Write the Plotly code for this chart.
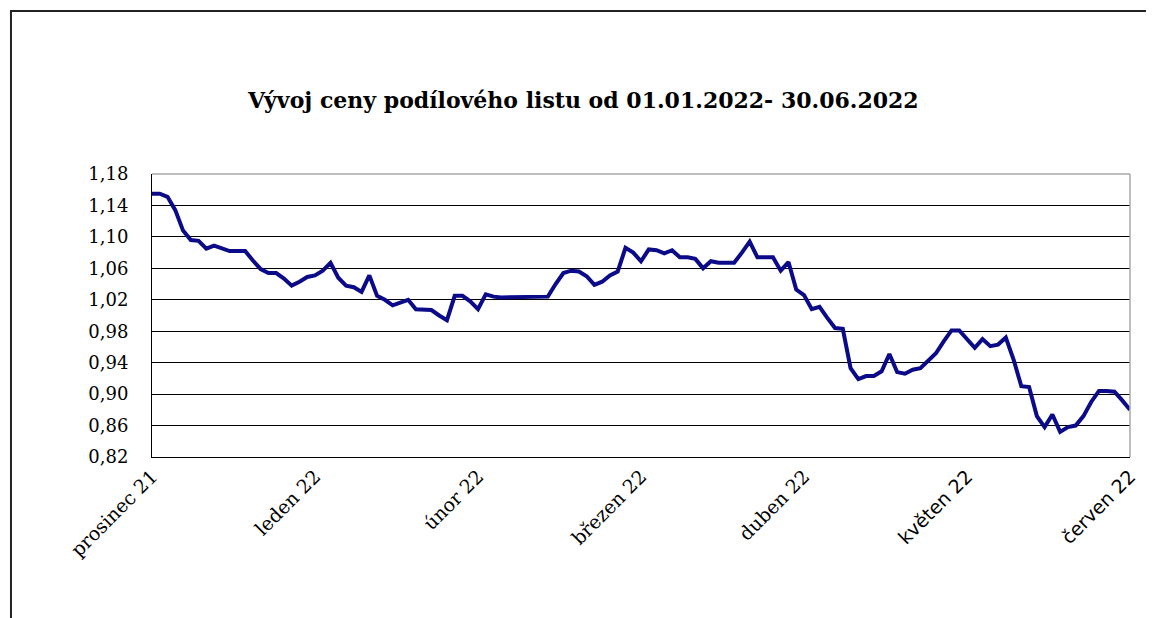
import plotly.graph_objects as go

# trading day index and unit price
day = list(range(127))
price = [
    1.155, 1.155, 1.151, 1.134, 1.108, 1.096, 1.095, 1.085, 1.089, 1.086,
    1.082, 1.082, 1.082, 1.070, 1.059, 1.054, 1.054, 1.047, 1.038, 1.043,
    1.049, 1.051, 1.057, 1.067, 1.048, 1.038, 1.036, 1.030, 1.051, 1.025,
    1.020, 1.013, 1.016, 1.020, 1.008, 1.007, 1.007, 1.000, 0.994, 1.025,
    1.025, 1.018, 1.008, 1.027, 1.024, 1.023, 1.023, 1.023, 1.023, 1.023,
    1.023, 1.024, 1.040, 1.054, 1.057, 1.056, 1.050, 1.039, 1.043, 1.051,
    1.056, 1.086, 1.080, 1.069, 1.084, 1.083, 1.079, 1.083, 1.074, 1.074,
    1.072, 1.060, 1.069, 1.067, 1.067, 1.067, 1.080, 1.094, 1.074, 1.074,
    1.074, 1.057, 1.068, 1.033, 1.026, 1.008, 1.011, 0.997, 0.984, 0.983,
    0.933, 0.919, 0.923, 0.923, 0.929, 0.951, 0.928, 0.926, 0.931, 0.933,
    0.943, 0.952, 0.967, 0.981, 0.981, 0.970, 0.959, 0.970, 0.961, 0.963,
    0.972, 0.944, 0.910, 0.909, 0.872, 0.858, 0.874, 0.852, 0.858, 0.860,
    0.872, 0.890, 0.904, 0.904, 0.903, 0.892, 0.880,
]

month_pos = [0, 21, 42, 63, 84, 105, 126]
month_labels = [
    "prosinec 21", "leden 22", "únor 22", "březen 22", "duben 22",
    "<span style='font-family:DejaVu Sans;font-size:19px'>květen 22</span>",
    "<span style='font-family:DejaVu Sans;font-size:19px'>červen 22</span>",
]
y_ticks = [0.82, 0.86, 0.90, 0.94, 0.98, 1.02, 1.06, 1.10, 1.14, 1.18]

SERIF = "DejaVu Serif"

fig = go.Figure()
fig.add_trace(go.Scatter(
    x=day, y=price, mode="lines",
    line=dict(color="#0b0b8a", width=4),
    showlegend=False, hoverinfo="skip",
))

fig.update_layout(
    width=1146, height=610,
    margin=dict(l=144, r=24, t=166, b=161),
    paper_bgcolor="white", plot_bgcolor="white",
    separators=", ",
    font=dict(family=SERIF, color="black", size=18),
    title=dict(
        text="<b>Vývoj ceny podílového listu od 01.01.2022- 30.06.2022</b>",
        x=0.502, xref="container", xanchor="center",
        y=0.849, yref="container", yanchor="middle",
        font=dict(family=SERIF, size=22, color="black"),
    ),
    xaxis=dict(
        range=[0, 126], tickvals=month_pos, ticktext=month_labels,
        tickangle=-45, showgrid=False, zeroline=False,
        showline=True, linecolor="black", linewidth=1,
        ticks="", ticklabelstandoff=0,
        tickfont=dict(family=SERIF, size=19),
    ),
    yaxis=dict(
        range=[0.82, 1.18], tickvals=y_ticks, tickformat=".2f",
        showgrid=True, gridcolor="black", gridwidth=1, zeroline=False,
        showline=True, linecolor="black", linewidth=1,
        ticks="", ticklabelstandoff=19,
        tickfont=dict(family=SERIF, size=18),
    ),
    shapes=[
        # grey frame around plot area (top/right edges)
        dict(type="line", xref="paper", yref="paper", x0=0, x1=1, y0=1, y1=1,
             line=dict(color="#a8a8a8", width=1.5), layer="above"),
        dict(type="line", xref="paper", yref="paper", x0=1, x1=1, y0=0, y1=1,
             line=dict(color="#a8a8a8", width=1.5), layer="above"),
        # outer chart border
        dict(type="rect", xref="paper", yref="paper",
             x0=-0.1442, x1=1.1, y0=-0.7, y1=1.576,
             line=dict(color="#222222", width=2), layer="below"),
    ],
)

fig.write_html("out.html")
